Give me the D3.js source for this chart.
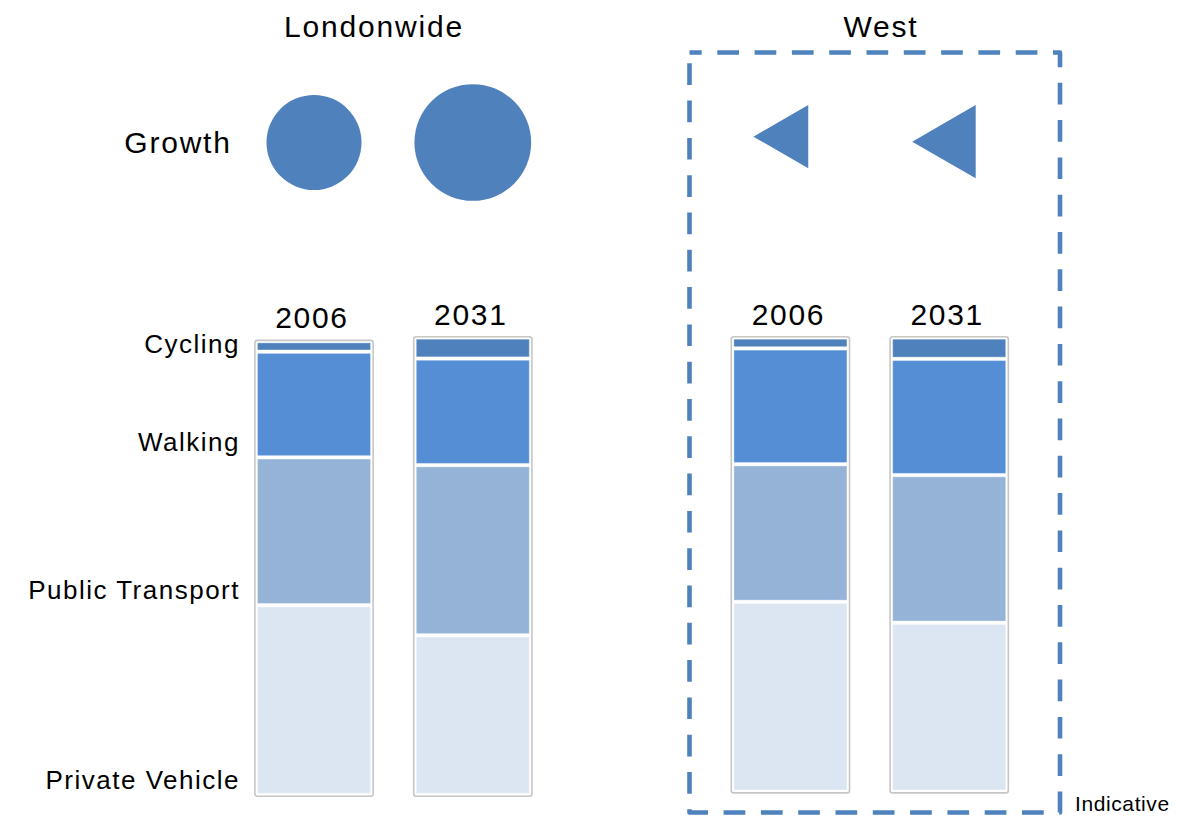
<!DOCTYPE html>
<html>
<head>
<meta charset="utf-8">
<script src="https://cdn.jsdelivr.net/npm/d3@7"></script>
<style>
  html, body { margin: 0; padding: 0; background: #fff; }
  svg { display: block; font-family: "Liberation Sans", Arial, sans-serif; }
</style>
</head>
<body>
<svg id="chart" width="1185" height="816"></svg>
<script>
// ---- data ----
const categories = ["Cycling", "Walking", "Public Transport", "Private Vehicle"]; // top to bottom
const panelNames = ["Londonwide", "West"];
const years = ["2006", "2031"];
// mode shares (%) in the order of `categories`
const londonShares2006 = [2.3, 23.1, 32.3, 41.5];
const londonShares2031 = [4.6, 23.3, 37.2, 34.9];
const westShares2006 = [2.4, 25.5, 30.3, 41.8];
const westShares2031 = [4.7, 25.6, 32.5, 37.2];
// growth index (2006 = 100)
const londonGrowth = [100, 151];
const westGrowth = [100, 134];
const footnote = "Indicative";
const growthLabel = "Growth";

const colors = ["#4f81bd", "#558ed5", "#95b3d7", "#dce6f2"];
const markColor = "#4f81bd";

// ---- build rows ----
const slotKeys = ["L2006", "L2031", "gap", "W2006", "W2031"];
const bars = [
  { key: "L2006", panel: 0, year: years[0], shares: londonShares2006 },
  { key: "L2031", panel: 0, year: years[1], shares: londonShares2031 },
  { key: "W2006", panel: 1, year: years[0], shares: westShares2006 },
  { key: "W2031", panel: 1, year: years[1], shares: westShares2031 }
];
bars.forEach(b => {
  const row = { key: b.key };
  categories.forEach((c, i) => row[c] = b.shares[i]);
  b.row = row;
});

const svg = d3.select("#chart");

// ---- scales ----
const x = d3.scaleBand().domain(slotKeys).range([234.6, 1028.6]).paddingInner(0.263).paddingOuter(0.1315);
const bw = x.bandwidth();
const yScales = [
  d3.scaleLinear().domain([0, 100]).range([795, 337.5]),
  d3.scaleLinear().domain([0, 100]).range([791.7, 337.5])
];
const color = d3.scaleOrdinal().domain(categories).range(colors);
const rCircle = d3.scaleSqrt().domain([0, 100]).range([0, 47.5]);
const sTri = d3.scaleSqrt().domain([0, 100]).range([0, 63.3]);

const stackKeys = categories.slice().reverse(); // bottom to top
const stack = d3.stack().keys(stackKeys);

// ---- dashed West box ----
svg.append("rect")
  .attr("x", 689.5).attr("y", 52.5)
  .attr("width", 370.5).attr("height", 760)
  .attr("fill", "none")
  .attr("stroke", markColor)
  .attr("stroke-width", 4.6)
  .attr("stroke-dasharray", "21.7 15.6")
  .attr("stroke-dashoffset", 9.5)
  .attr("stroke-linejoin", "round");

// ---- bars ----
bars.forEach(b => {
  const y = yScales[b.panel];
  const series = stack([b.row]);
  const x0 = x(b.key);
  const top = d3.max(series, s => s[0][1]);
  const g = svg.append("g");
  // frame
  g.append("rect")
    .attr("x", x0 - 0.6).attr("y", y(top) - 0.8)
    .attr("width", bw + 1.2).attr("height", y(0) - y(top) + 2)
    .attr("rx", 2.5)
    .attr("fill", "#fff")
    .attr("stroke", "#c6c6c6")
    .attr("stroke-width", 1.6);
  g.selectAll("rect.seg").data(series).join("rect")
    .attr("class", "seg")
    .attr("x", x0 + 2)
    .attr("width", bw - 4)
    .attr("y", s => y(s[0][1]) + 1.7)
    .attr("height", s => Math.max(0, y(s[0][0]) - y(s[0][1]) - 3.4))
    .attr("fill", s => color(s.key))
    .attr("stroke", "rgba(255,255,255,0.35)")
    .attr("stroke-width", 1);
  // year label
  svg.append("text")
    .attr("x", x0 + bw / 2 - 2)
    .attr("y", y(top) - 13)
    .attr("text-anchor", "middle")
    .attr("font-size", 30)
    .attr("letter-spacing", 1.7)
    .attr("fill", "#000")
    .text(b.year);
});

// ---- category labels (aligned with Londonwide 2006 bar) ----
{
  const y = yScales[0];
  const series = stack([bars[0].row]);
  series.forEach(s => {
    const lower = y(s[0][0]), upper = y(s[0][1]);
    svg.append("text")
      .attr("x", 240)
      .attr("y", Math.max(lower - 6.5, upper + 12))
      .attr("text-anchor", "end")
      .attr("font-size", 26)
      .attr("letter-spacing", 1.5)
      .attr("fill", "#000")
      .text(s.key);
  });
}

// ---- growth circles (Londonwide) ----
svg.selectAll("circle.growth").data(londonGrowth).join("circle")
  .attr("class", "growth")
  .attr("cx", (d, i) => x(bars[i].key) + bw / 2)
  .attr("cy", 142.5)
  .attr("r", d => rCircle(d))
  .attr("fill", markColor);

// ---- growth triangles (West, pointing left) ----
svg.selectAll("path.growth").data(westGrowth).join("path")
  .attr("class", "growth")
  .attr("d", (d, i) => {
    const s = sTri(d);
    const h = s * Math.sqrt(3) / 2;
    const apexX = x(bars[i + 2].key) + bw / 2 - 37;
    const topY = 105;
    return `M${apexX},${topY + s / 2}L${apexX + h},${topY}L${apexX + h},${topY + s}Z`;
  })
  .attr("fill", markColor);

// ---- titles ----
svg.append("text")
  .attr("x", 374).attr("y", 36.5)
  .attr("text-anchor", "middle")
  .attr("font-size", 30).attr("letter-spacing", 1.8)
  .text(panelNames[0]);
svg.append("text")
  .attr("x", 881).attr("y", 36.5)
  .attr("text-anchor", "middle")
  .attr("font-size", 30).attr("letter-spacing", 1.8)
  .text(panelNames[1]);
svg.append("text")
  .attr("x", 178).attr("y", 152.5)
  .attr("text-anchor", "middle")
  .attr("font-size", 30).attr("letter-spacing", 1.8)
  .text(growthLabel);
svg.append("text")
  .attr("x", 1075).attr("y", 811)
  .attr("font-size", 21).attr("letter-spacing", 0.6)
  .text(footnote);
</script>
</body>
</html>
